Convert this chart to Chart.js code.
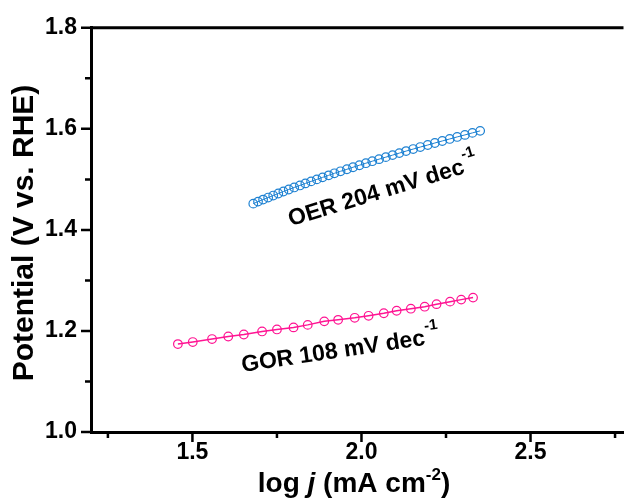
<!DOCTYPE html>
<html>
<head>
<meta charset="utf-8">
<script src="https://cdn.jsdelivr.net/npm/chart.js@4.4.0/dist/chart.umd.min.js"></script>
<style>
  html, body { margin: 0; padding: 0; background: #fff; overflow: hidden; }
</style>
</head>
<body>
<canvas id="tafel" width="629" height="498"></canvas>
<script>
// Tafel data
const oerLogJ = [1.680, 1.694, 1.709, 1.724, 1.739, 1.754, 1.769, 1.785, 1.801, 1.818,
  1.834, 1.851, 1.868, 1.885, 1.903, 1.920, 1.938, 1.957, 1.975, 1.994,
  2.013, 2.032, 2.052, 2.072, 2.092, 2.112, 2.132, 2.153, 2.174, 2.196,
  2.217, 2.239, 2.261, 2.283, 2.306, 2.328, 2.351];
const oerPotential = [1.452, 1.456, 1.460, 1.464, 1.468, 1.472, 1.476, 1.480, 1.484, 1.488,
  1.492, 1.496, 1.500, 1.504, 1.508, 1.512, 1.516, 1.520, 1.524, 1.528,
  1.532, 1.536, 1.540, 1.544, 1.548, 1.552, 1.556, 1.560, 1.564, 1.568,
  1.572, 1.576, 1.580, 1.584, 1.588, 1.592, 1.596];

const gorLogJ = [1.457, 1.501, 1.558, 1.606, 1.652, 1.706, 1.750, 1.799, 1.841, 1.890,
  1.931, 1.980, 2.021, 2.066, 2.104, 2.146, 2.187, 2.222, 2.262, 2.295, 2.330];
const gorPotential = [1.174, 1.178, 1.184, 1.189, 1.193, 1.199, 1.203, 1.207, 1.212, 1.219,
  1.222, 1.226, 1.230, 1.235, 1.240, 1.244, 1.248, 1.253, 1.258, 1.262, 1.266];

const xMajorTicks = [1.5, 2.0, 2.5];
const xMinorTicks = [1.25, 1.75, 2.25, 2.75];
const yMajorTicks = [1.0, 1.2, 1.4, 1.6, 1.8];
const yMinorTicks = [1.1, 1.3, 1.5, 1.7];

// slope labels: text, anchor (data units), angle (deg)
const slopeLabels = [
  { text: 'OER 204 mV dec', sup: '-1', x: 1.791, y: 1.407, angle: -17 },
  { text: 'GOR 108 mV dec', sup: '-1', x: 1.648, y: 1.119, angle: -8.4 }
];

const FONT = 'Arial, "Liberation Sans", Helvetica, sans-serif';
const OER_COLOR = '#1f82d2';
const GOR_COLOR = '#ff1493';

function toPoints(xs, ys) {
  return xs.map((x, i) => ({ x: x, y: ys[i] }));
}

// draws tick marks, top frame line, axis titles and slope labels
const decorPlugin = {
  id: 'decor',
  afterDraw(chart) {
    const ctx = chart.ctx;
    const xs = chart.scales.x;
    const ys = chart.scales.y;
    const area = chart.chartArea;
    ctx.save();
    ctx.strokeStyle = '#000';

    // top frame line
    ctx.beginPath();
    ctx.lineWidth = 3;
    ctx.moveTo(area.left, area.top);
    ctx.lineTo(area.right, area.top);
    ctx.stroke();

    ctx.lineWidth = 2.5;
    ctx.beginPath();
    yMajorTicks.forEach(v => {
      const p = ys.getPixelForValue(v);
      ctx.moveTo(area.left - 10, p);
      ctx.lineTo(area.left, p);
    });
    yMinorTicks.forEach(v => {
      const p = ys.getPixelForValue(v);
      ctx.moveTo(area.left - 6, p);
      ctx.lineTo(area.left, p);
    });
    xMajorTicks.forEach(v => {
      const p = xs.getPixelForValue(v);
      ctx.moveTo(p, area.bottom);
      ctx.lineTo(p, area.bottom + 10);
    });
    xMinorTicks.forEach(v => {
      const p = xs.getPixelForValue(v);
      ctx.moveTo(p, area.bottom);
      ctx.lineTo(p, area.bottom + 6);
    });
    ctx.stroke();

    ctx.fillStyle = '#000';

    // y title
    ctx.save();
    ctx.translate(33, 233);
    ctx.rotate(-Math.PI / 2);
    ctx.font = 'bold 30px ' + FONT;
    ctx.textAlign = 'center';
    ctx.textBaseline = 'alphabetic';
    ctx.fillText('Potential (V vs. RHE)', 0, 0);
    ctx.restore();

    // x title: log j (mA cm-2)
    const parts = [
      { t: 'log ', f: 'bold 28px ' + FONT, dy: 0 },
      { t: 'j', f: 'italic bold 28px ' + FONT, dy: 0 },
      { t: ' (mA cm', f: 'bold 28px ' + FONT, dy: 0 },
      { t: '-2', f: 'bold 17px ' + FONT, dy: -12 },
      { t: ')', f: 'bold 28px ' + FONT, dy: 0 }
    ];
    let total = 0;
    parts.forEach(p => { ctx.font = p.f; p.w = ctx.measureText(p.t).width; total += p.w; });
    let cx = 354 - total / 2;
    ctx.textAlign = 'left';
    ctx.textBaseline = 'alphabetic';
    parts.forEach(p => {
      ctx.font = p.f;
      ctx.fillText(p.t, cx, 492 + p.dy);
      cx += p.w;
    });

    // slope labels
    slopeLabels.forEach(l => {
      ctx.save();
      ctx.translate(xs.getPixelForValue(l.x), ys.getPixelForValue(l.y));
      ctx.rotate(l.angle * Math.PI / 180);
      ctx.font = 'bold 23px ' + FONT;
      ctx.textAlign = 'left';
      ctx.textBaseline = 'alphabetic';
      ctx.fillText(l.text, 0, 0);
      const w = ctx.measureText(l.text).width;
      ctx.font = 'bold 15px ' + FONT;
      ctx.fillText(l.sup, w + 1, -14);
      ctx.restore();
    });

    ctx.restore();
  }
};

new Chart(document.getElementById('tafel'), {
  type: 'scatter',
  data: {
    datasets: [
      {
        label: 'OER',
        data: toPoints(oerLogJ, oerPotential),
        showLine: true,
        borderColor: OER_COLOR,
        borderWidth: 1,
        pointRadius: 4.3,
        pointBorderWidth: 1.2,
        pointBorderColor: OER_COLOR,
        pointBackgroundColor: 'rgba(0,0,0,0)'
      },
      {
        label: 'GOR',
        data: toPoints(gorLogJ, gorPotential),
        showLine: true,
        borderColor: GOR_COLOR,
        borderWidth: 1.5,
        pointRadius: 4.3,
        pointBorderWidth: 1.2,
        pointBorderColor: GOR_COLOR,
        pointBackgroundColor: 'rgba(0,0,0,0)'
      }
    ]
  },
  options: {
    responsive: false,
    animation: false,
    devicePixelRatio: 1,
    layout: { padding: { top: 25, right: 0, bottom: 0, left: 0 } },
    plugins: {
      legend: { display: false },
      tooltip: { enabled: false }
    },
    scales: {
      x: {
        type: 'linear',
        min: 1.2,
        max: 2.775,
        grid: { display: false, drawTicks: false },
        border: { display: true, color: '#000', width: 3 },
        afterBuildTicks: s => { s.ticks = xMajorTicks.map(v => ({ value: v })); },
        afterFit: s => { s.height = 66; },
        ticks: {
          color: '#000',
          padding: 7,
          maxRotation: 0,
          autoSkip: false,
          font: { family: FONT, size: 23, weight: 'bold' },
          callback: v => v.toFixed(1)
        }
      },
      y: {
        type: 'linear',
        min: 1.0,
        max: 1.8,
        grid: { display: false, drawTicks: false },
        border: { display: true, color: '#000', width: 3 },
        afterBuildTicks: s => { s.ticks = yMajorTicks.map(v => ({ value: v })); },
        afterFit: s => { s.width = 91; },
        ticks: {
          color: '#000',
          padding: 14,
          autoSkip: false,
          font: { family: FONT, size: 23, weight: 'bold' },
          callback: v => v.toFixed(1)
        }
      }
    }
  },
  plugins: [decorPlugin]
});
</script>
</body>
</html>
